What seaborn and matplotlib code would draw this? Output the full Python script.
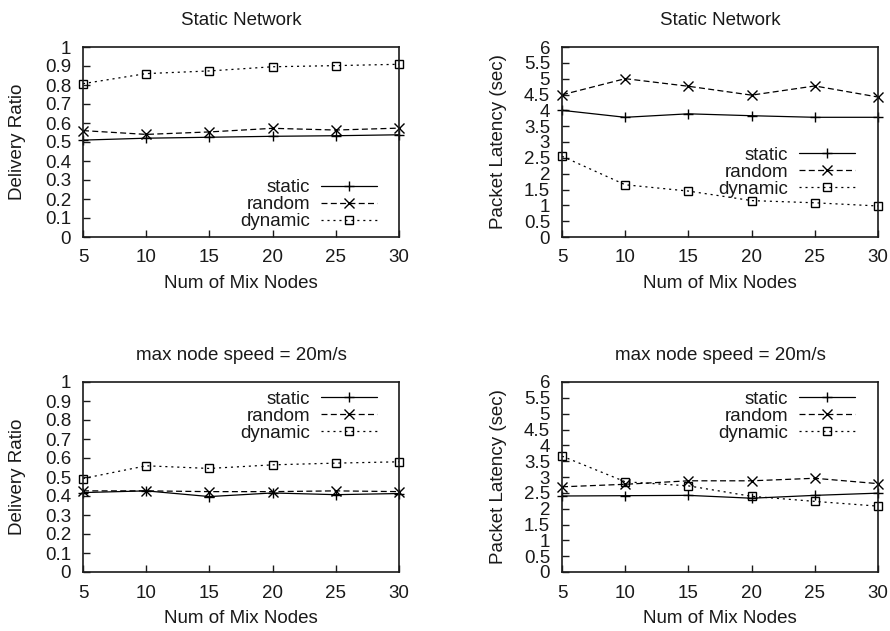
import matplotlib
matplotlib.use("Agg")
import matplotlib.pyplot as plt
import seaborn as sns
import numpy as np
from matplotlib.ticker import FormatStrFormatter

# ---- data -------------------------------------------------------------
nodes = [5, 10, 15, 20, 25, 30]
series = ["static", "random", "dynamic"]

# Static network - delivery ratio
sn_delivery_static = [0.51, 0.52, 0.525, 0.53, 0.533, 0.538]
sn_delivery_random = [0.56, 0.54, 0.553, 0.572, 0.563, 0.573]
sn_delivery_dynamic = [0.807, 0.86, 0.874, 0.896, 0.902, 0.909]

# Static network - packet latency
sn_latency_static = [4.0, 3.78, 3.89, 3.83, 3.78, 3.78]
sn_latency_random = [4.49, 5.0, 4.76, 4.48, 4.77, 4.42]
sn_latency_dynamic = [2.55, 1.65, 1.45, 1.15, 1.08, 0.98]

# max node speed 20 m/s - delivery ratio
ms_delivery_static = [0.418, 0.427, 0.397, 0.416, 0.407, 0.413]
ms_delivery_random = [0.427, 0.427, 0.423, 0.423, 0.427, 0.423]
ms_delivery_dynamic = [0.492, 0.559, 0.545, 0.564, 0.573, 0.58]

# max node speed 20 m/s - packet latency
ms_latency_static = [2.40, 2.41, 2.42, 2.33, 2.42, 2.49]
ms_latency_random = [2.69, 2.77, 2.88, 2.88, 2.96, 2.79]
ms_latency_dynamic = [3.66, 2.85, 2.72, 2.39, 2.23, 2.08]

titles = ["Static Network", "Static Network",
          "max node speed = 20m/s", "max node speed = 20m/s"]
ylabels = ["Delivery Ratio", "Packet Latency (sec)",
           "Delivery Ratio", "Packet Latency (sec)"]
xlabel = "Num of Mix Nodes"
ratio_ticks = [0, 0.1, 0.2, 0.3, 0.4, 0.5, 0.6, 0.7, 0.8, 0.9, 1]
latency_ticks = [0, 0.5, 1, 1.5, 2, 2.5, 3, 3.5, 4, 4.5, 5, 5.5, 6]

# ---- style ------------------------------------------------------------
sns.set_theme(style="white")
plt.rcParams["font.family"] = ["Liberation Sans", "DejaVu Sans"]
plt.rcParams["lines.scale_dashes"] = False
TXT = "#1a1a1a"
plt.rcParams["text.color"] = TXT
plt.rcParams["axes.labelcolor"] = TXT
plt.rcParams["xtick.color"] = TXT
plt.rcParams["ytick.color"] = TXT
FS = 13.5

line_styles = {"static": "-", "random": (0, (4.3, 2.4)), "dynamic": (0, (1.5, 2.8))}
markers = {"static": "+", "random": "x", "dynamic": "s"}
msizes = {"static": 7, "random": 6.5, "dynamic": 5.5}

fig = plt.figure(figsize=(8.9, 6.31), dpi=100)

panel_data = [
    (sn_delivery_static, sn_delivery_random, sn_delivery_dynamic),
    (sn_latency_static, sn_latency_random, sn_latency_dynamic),
    (ms_delivery_static, ms_delivery_random, ms_delivery_dynamic),
    (ms_latency_static, ms_latency_random, ms_latency_dynamic),
]

W = 316 / 890
H = 190 / 631
positions = [
    (83 / 890, 1 - 237 / 631),
    (562 / 890, 1 - 237 / 631),
    (83 / 890, 1 - 572 / 631),
    (562 / 890, 1 - 572 / 631),
]
legend_cfg = [
    ("lower right", (0.930, 0.035)),
    ("lower right", (0.927, 0.205)),
    ("upper right", (0.930, 0.955)),
    ("upper right", (0.927, 0.955)),
]
ylabel_x = [-0.18, -0.173, -0.18, -0.173]

for i in range(4):
    ax = fig.add_axes([positions[i][0], positions[i][1], W, H])
    for name, vals in zip(series, panel_data[i]):
        sns.lineplot(x=nodes, y=vals, ax=ax, color="black", lw=0.9,
                     linestyle=line_styles[name], marker=markers[name],
                     markersize=msizes[name], mfc="none", mec="black",
                     mew=1.0, label=name, clip_on=False, legend=False)
    ax.set_xlim(5, 30)
    ax.set_xticks(nodes)
    if i % 2 == 0:
        ax.set_ylim(0, 1)
        ax.set_yticks(ratio_ticks)
    else:
        ax.set_ylim(0, 6)
        ax.set_yticks(latency_ticks)
    ax.yaxis.set_major_formatter(FormatStrFormatter("%g"))
    ax.tick_params(axis="both", direction="in", length=5, width=1,
                   labelsize=FS, top=False, right=False, left=True, bottom=True)
    ax.tick_params(axis="y", pad=8.5)
    ax.tick_params(axis="x", pad=9)
    for sp in ax.spines.values():
        sp.set_color(TXT)
        sp.set_linewidth(1.2)
    ax.set_title(titles[i], fontsize=FS, pad=15.6)
    ax.set_ylabel(ylabels[i], fontsize=FS)
    ax.yaxis.set_label_coords(ylabel_x[i], 0.5)
    ax.set_xlabel(xlabel, fontsize=FS)
    ax.xaxis.set_label_coords(0.5, -0.2)
    handles, labels = ax.get_legend_handles_labels()
    loc, anchor = legend_cfg[i]
    ax.legend(handles, labels, loc=loc, bbox_to_anchor=anchor, frameon=False,
              markerfirst=False, fontsize=FS, handlelength=3.0,
              handletextpad=0.55, labelspacing=0.0, borderpad=0,
              borderaxespad=0)

fig.savefig("out.png", dpi=100)
